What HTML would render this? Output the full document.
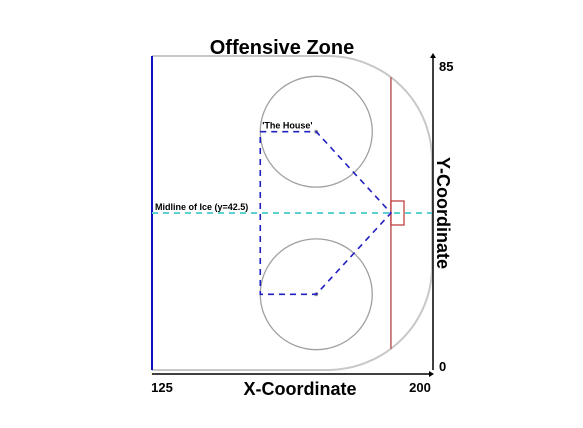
<!DOCTYPE html>
<html><head><meta charset="utf-8"><style>
body{margin:0;background:#fff;}
svg{display:block;font-family:"Liberation Sans",Arial,sans-serif;}
</style></head><body>
<svg id="c" width="583" height="428">
<text x="282" y="54" text-anchor="middle" font-size="20" font-weight="bold">Offensive Zone</text>
</svg>
<script>
const xDomain=[125,200];
const yDomain=[0,85];
const xTicks=["125","200"];
const yTicks=["0","85"];
const circleCenters=[[169,64.5],[169,20.5]];
const circleRadius=[15];
const housePts=[[154,64.5],[169,64.5],[189,42.5],[169,20.5],[154,20.5],[154,64.5]];
const goalLineX=[189];
const blueLineX=[125];
const midlineY=[42.5];
const cornerRadius=[28];
const crease=[189,192.5,39.25,45.75];
const NS="http://www.w3.org/2000/svg";
const svg=document.getElementById('c');
const X0=152,X1=432,Y0=370,Y1=56;
function sx(v){return X0+(v-xDomain[0])/(xDomain[1]-xDomain[0])*(X1-X0);}
function sy(v){return Y0-(v-yDomain[0])/(yDomain[1]-yDomain[0])*(Y0-Y1);}
function mk(t,a,txt){const e=document.createElementNS(NS,t);for(const k in a)e.setAttribute(k,a[k]);if(txt!==undefined)e.textContent=txt;svg.appendChild(e);return e;}
// boards
const r=cornerRadius[0],rx=sx(xDomain[1])-sx(xDomain[1]-r),ry=sy(0)-sy(r);
let boards=mk('path',{d:`M${sx(125)},${sy(85)} L${sx(200-r)},${sy(85)} A${rx},${ry} 0 0 1 ${sx(200)},${sy(85-r)} L${sx(200)},${sy(r)} A${rx},${ry} 0 0 1 ${sx(200-r)},${sy(0)} L${sx(125)},${sy(0)}`,fill:'none',stroke:'#c8c8c8','stroke-width':2});


let bl=mk('line',{x1:sx(blueLineX[0]),x2:sx(blueLineX[0]),y1:sy(85),y2:sy(0),stroke:'#1010c0','stroke-width':2});


// goal line clipped by corner
const dx=goalLineX[0]-(200-r),dy=Math.sqrt(r*r-dx*dx);
let gl=mk('line',{x1:sx(goalLineX[0]),x2:sx(goalLineX[0]),y1:sy(85-r+dy),y2:sy(r-dy),stroke:'#b04040','stroke-width':1.3});


circleCenters.forEach((c,i)=>{
 let e=mk('ellipse',{cx:sx(c[0]),cy:sy(c[1]),rx:sx(c[0]+circleRadius[0])-sx(c[0]),ry:sy(c[1])-sy(c[1]+circleRadius[0]),fill:'none',stroke:'#a0a0a0','stroke-width':1.3});
 
 
 let d=mk('circle',{cx:sx(c[0]),cy:sy(c[1]),r:2,fill:'#999'});
 
 
});
let cr=mk('rect',{x:sx(crease[0]),y:sy(crease[3]),width:sx(crease[1])-sx(crease[0]),height:sy(crease[2])-sy(crease[3]),fill:'none',stroke:'#c04040','stroke-width':1.3});


let ml=mk('line',{x1:sx(125),x2:sx(200),y1:sy(midlineY[0]),y2:sy(midlineY[0]),stroke:'#5fd0d0','stroke-width':2,'stroke-dasharray':'6,5'});


let hp=mk('polyline',{points:housePts.map(p=>sx(p[0])+','+sy(p[1])).join(' '),fill:'none',stroke:'#2020c0','stroke-width':1.6,'stroke-dasharray':'6,5'});


let ht=mk('text',{x:sx(housePts[0][0])+2,y:sy(housePts[0][1])-3,'font-size':9,'font-weight':'bold'},"'The House'");


let mt=mk('text',{x:155,y:sy(midlineY[0])-3,'font-size':9,'font-weight':'bold'},'Midline of Ice (y=42.5)');


// axes
let xa=mk('line',{x1:sx(125),x2:sx(200)-2,y1:374,y2:374,stroke:'#000','stroke-width':1.5});


let xah=mk('path',{d:`M${sx(200)+2},374 l-5,-3 l0,6 z`,fill:'#000'});


let ya=mk('line',{x1:433,x2:433,y1:370,y2:sy(85)+1,stroke:'#000','stroke-width':1.5});


let yah=mk('path',{d:`M433,${sy(85)-3} l-3,5 l6,0 z`,fill:'#000'});


xTicks.forEach((t,i)=>{
 let e=mk('text',{x:sx(+t)+(i?-12:10),y:392,'font-size':13,'font-weight':'bold','text-anchor':'middle'},t);
 
 
});
yTicks.forEach((t,i)=>{
 let e=mk('text',{x:439,y:sy(+t)+(i?15:1),'font-size':13,'font-weight':'bold'},t);
 
 
});
let xt=mk('text',{x:300,y:395,'font-size':18,'font-weight':'bold','text-anchor':'middle'},'X-Coordinate');


let yt=mk('text',{x:0,y:0,'font-size':18,'font-weight':'bold','text-anchor':'middle',transform:'translate(437,213) rotate(90)'},'Y-Coordinate');


</script>
</body></html>
